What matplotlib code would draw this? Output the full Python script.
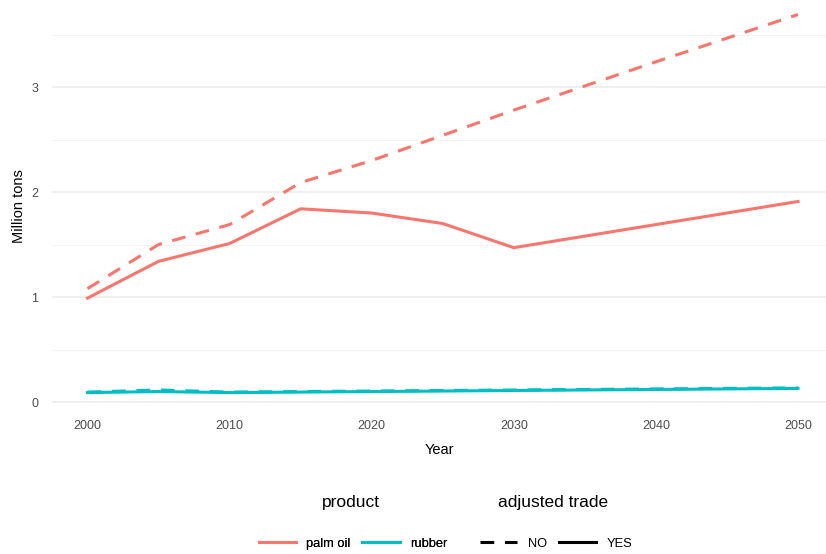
import numpy as np
import matplotlib
matplotlib.use("Agg")
import matplotlib.pyplot as plt
from matplotlib.lines import Line2D

years = [2000, 2005, 2010, 2015, 2020, 2025, 2030, 2040, 2050]
palm_yes = [0.99, 1.34, 1.51, 1.84, 1.80, 1.70, 1.47, 1.69, 1.91]
palm_no = [1.08, 1.50, 1.69, 2.09, 2.30, 2.54, 2.78, 3.24, 3.69]
rubber_yes = [0.09, 0.10, 0.09, 0.095, 0.10, 0.105, 0.11, 0.12, 0.13]
rubber_no = [0.095, 0.115, 0.095, 0.10, 0.105, 0.11, 0.115, 0.125, 0.135]

products = ["palm oil", "rubber"]
colors = {"palm oil": "#F8766D", "rubber": "#00BFC4"}
xticks = [2000, 2010, 2020, 2030, 2040, 2050]
yticks = [0, 1, 2, 3]


def main():
    plt.rcParams["font.family"] = ["Liberation Sans", "DejaVu Sans"]
    fig = plt.figure(figsize=(8.26, 5.54), dpi=100)
    ax = fig.add_axes([52 / 826, 142.5 / 554, 774 / 826, 411.5 / 554])

    lw = 2.2
    dash = (4.5, 3.5)
    ax.plot(years, palm_no, color=colors["palm oil"], lw=lw, dashes=dash)
    ax.plot(years, palm_yes, color=colors["palm oil"], lw=lw)
    ax.plot(years, rubber_no, color=colors["rubber"], lw=lw, dashes=dash)
    ax.plot(years, rubber_yes, color=colors["rubber"], lw=lw)

    ax.set_xlim(1997.5, 2000 + (826 - 88) / 14.2)
    ax.set_ylim(-0.09, 402 / 105)
    ax.set_xticks(xticks)
    ax.set_yticks(yticks)
    ax.set_yticks([0.5, 1.5, 2.5, 3.5], minor=True)
    ax.grid(which="major", axis="y", color="#EBEBEB", lw=1.1)
    ax.grid(which="minor", axis="y", color="#F2F2F2", lw=0.6)
    ax.set_axisbelow(True)
    for s in ax.spines.values():
        s.set_visible(False)
    ax.tick_params(which="both", length=0, labelsize=9, labelcolor="#4D4D4D")
    ax.tick_params(axis="y", pad=10)
    ax.tick_params(axis="x", pad=6)
    ax.set_xlabel("Year", fontsize=10.5, labelpad=8)
    ax.set_ylabel("Million tons", fontsize=10.5, labelpad=4)

    # legend titles
    fig.text(351 / 826, 1 - 503 / 554, "product", ha="center", va="center", fontsize=12.5)
    fig.text(553 / 826, 1 - 503 / 554, "adjusted trade", ha="center", va="center", fontsize=12.5)

    kw = dict(ncol=2, frameon=False, fontsize=9.3, handlelength=2.9,
              columnspacing=0.9, handletextpad=0.8, loc="center")
    h1 = [Line2D([], [], color=colors[p], lw=lw) for p in products]
    leg1 = fig.legend(h1, products, bbox_to_anchor=(353 / 826, 1 - 544 / 554), **kw)
    fig.add_artist(leg1)
    h2 = [Line2D([], [], color="black", lw=lw, dashes=dash),
          Line2D([], [], color="black", lw=lw)]
    fig.legend(h2, ["NO", "YES"], bbox_to_anchor=(556 / 826, 1 - 544 / 554), **kw)

    fig.savefig("out.png", dpi=100)


if __name__ == "__main__":
    main()
